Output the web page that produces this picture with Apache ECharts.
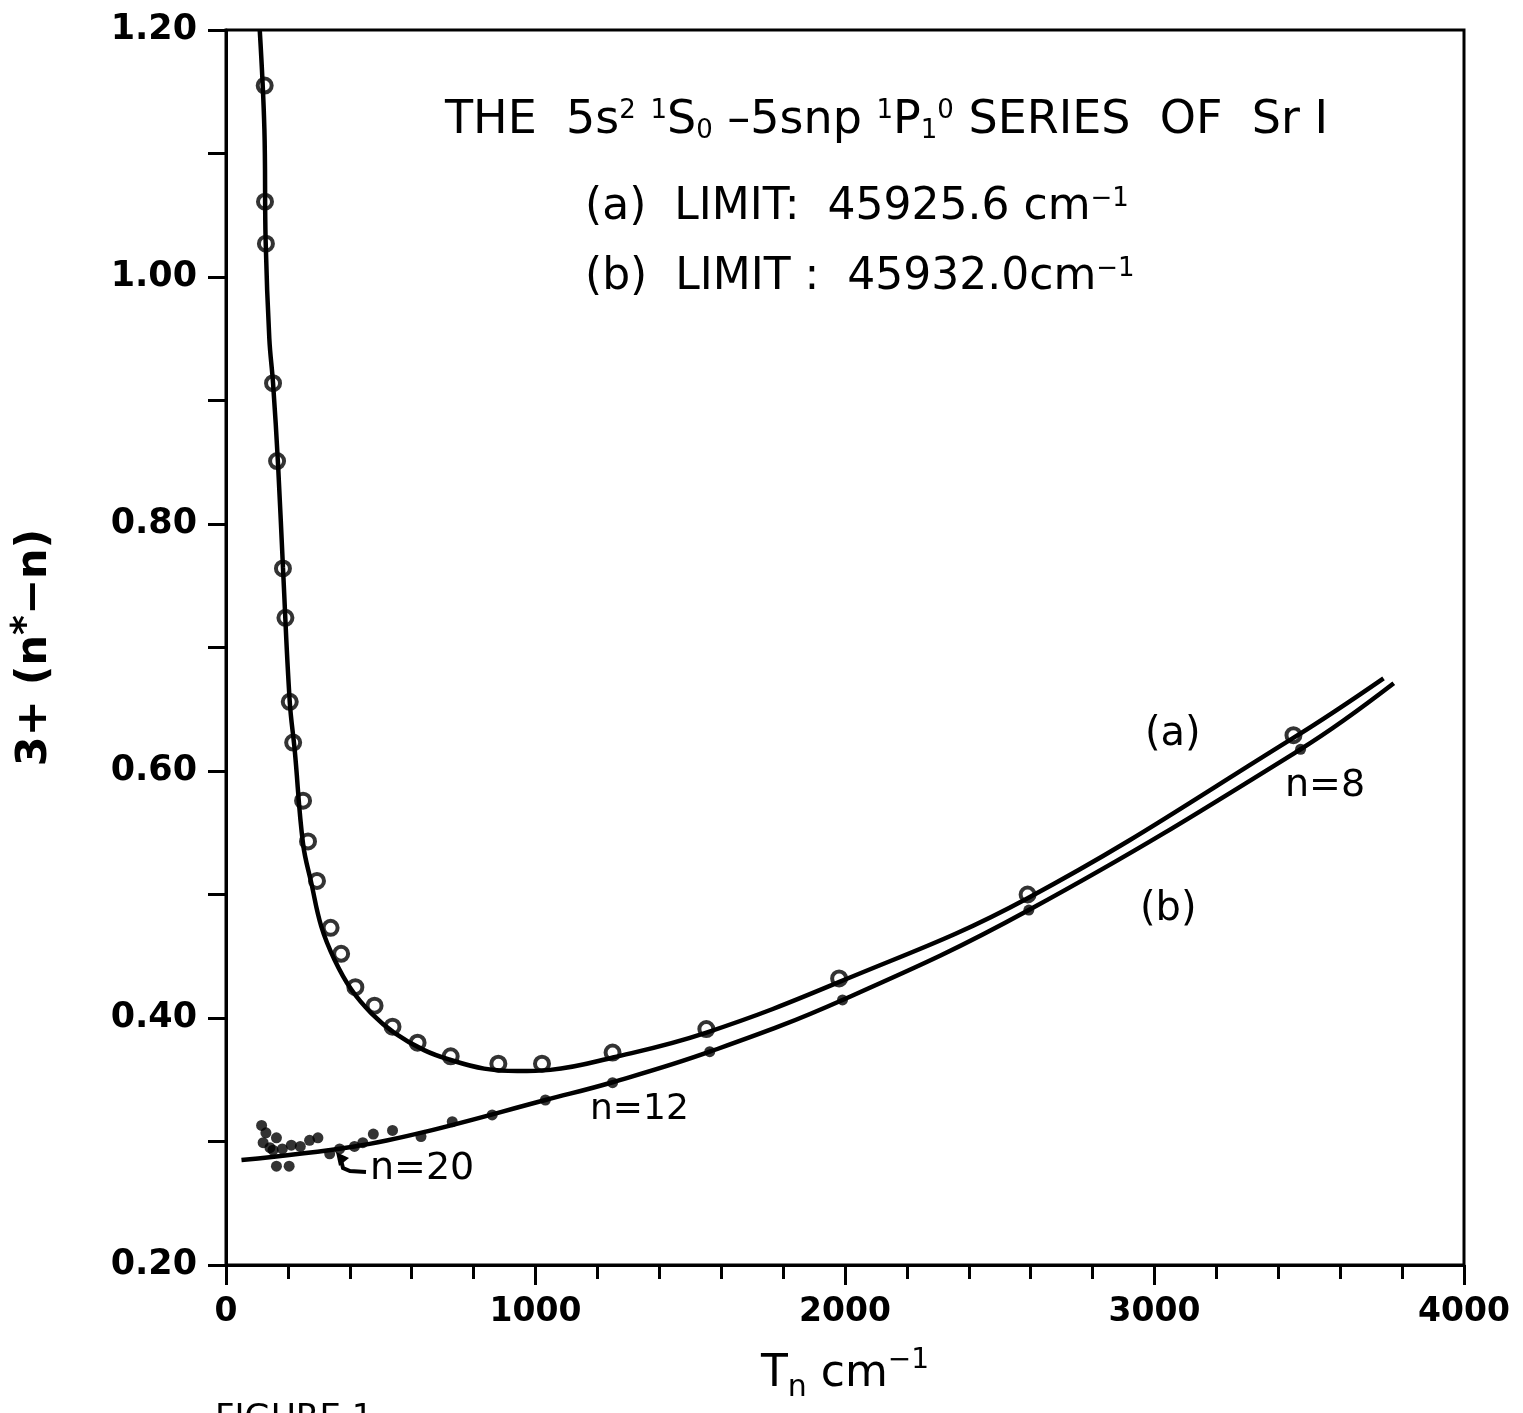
<!DOCTYPE html>
<html><head><meta charset="utf-8">
<script src="https://cdn.jsdelivr.net/npm/echarts@6/dist/echarts.min.js"></script>
<style>html,body{margin:0;padding:0;background:#fff}#c{width:1523px;height:1413px}</style>
</head><body><div id="c"></div>
<script>
// ---- data ----
const xTickValues = [0, 1000, 2000, 3000, 4000];
const yTickLabels = ['0.20', '0.40', '0.60', '0.80', '1.00', '1.20'];

// (a) LIMIT 45925.6 : open circles  [T_n, 3+(n*-n)]
const openCirclesA = [
  [125,1.155],[126,1.061],[129,1.027],[152,0.914],[165,0.851],[184,0.764],[192,0.724],
  [206,0.656],[217,0.623],[249,0.576],[265,0.543],[294,0.511],[338,0.473],[372,0.452],
  [418,0.425],[480,0.410],[538,0.393],[619,0.380],[726,0.369],[880,0.363],[1021,0.363],
  [1249,0.372],[1552,0.391],[1981,0.432],[2590,0.500],[3449,0.629]
];
// (b) LIMIT 45932.0 : filled dots
const dotsB = [
  [115,0.313],[129,0.307],[120,0.299],[163,0.303],[142,0.295],[152,0.293],[182,0.294],
  [163,0.280],[204,0.280],[211,0.297],[240,0.296],[270,0.301],[297,0.303],[335,0.290],
  [367,0.294],[415,0.296],[442,0.299],[476,0.306],[538,0.309],[630,0.304],[731,0.316],
  [860,0.3215],[1032,0.3336],[1249,0.3476],[1563,0.3727],[1992,0.4146],[2594,0.4874],[3472,0.6176]
];
// drawn curves
const curveA = [
  [109,1.200],[124,1.120],[128,1.030],[140,0.950],[152,0.914],[168,0.849],
  [184,0.765],[206,0.656],[222,0.617],[249,0.541],[276,0.509],
  [308,0.474],[351,0.447],[405,0.423],[469,0.404],[544,0.388],[640,0.374],[726,0.366],
  [834,0.359],[941,0.357],[1048,0.358],[1250,0.368],[1550,0.388],[1980,0.429],
  [2590,0.497],[3450,0.627],[3740,0.675]
];
const curveB = [
  [50,0.285],[415,0.296],[646,0.308],[1032,0.3336],[1249,0.348],
  [1563,0.3727],[1992,0.4146],[2594,0.4874],[3472,0.6176],[3773,0.671]
];

const FONT = 'DejaVu Sans';
const chart = echarts.init(document.getElementById('c'), null, {renderer:'canvas'});
const axisLineStyle = {color:'#000', width:3};
const supRich = {
  sup:{fontSize:26, fontFamily:FONT, verticalAlign:'top', padding:[0,0,18,0], fill:'#000', color:'#000'},
  sub:{fontSize:26, fontFamily:FONT, verticalAlign:'bottom', padding:[20,0,0,0], fill:'#000', color:'#000'}
};

chart.setOption({
  animation:false,
  backgroundColor:'#fff',
  grid:{left:221, top:30, width:1243, height:1235, show:true, borderColor:'#000', borderWidth:3, backgroundColor:'rgba(0,0,0,0)'},
  xAxis:{
    type:'value', min:0, max:4000, interval:1000,
    axisLine:{show:true, onZero:false, lineStyle:axisLineStyle},
    axisTick:{show:true, inside:false, length:20, lineStyle:axisLineStyle},
    minorTick:{show:true, splitNumber:5, length:14, lineStyle:axisLineStyle},
    splitLine:{show:false}, minorSplitLine:{show:false},
    axisLabel:{color:'#000', fontSize:33, fontFamily:FONT, fontWeight:'bold', margin:31,
      formatter:v => xTickValues.includes(Math.round(v)) ? String(Math.round(v)) : ''},
    name:'T{sub|n} cm{sup|\u22121}', nameLocation:'middle', nameGap:82,
    nameTextStyle:{color:'#000', fontSize:44, fontFamily:FONT, rich:{
      sup:{fontSize:28, fontFamily:FONT, color:'#000', verticalAlign:'top', padding:[0,0,20,0]},
      sub:{fontSize:30, fontFamily:FONT, color:'#000', verticalAlign:'bottom', padding:[26,0,0,0]}}}
  },
  yAxis:{
    type:'value', min:0.2, max:1.2, interval:0.1,
    axisLine:{show:true, onZero:false, lineStyle:axisLineStyle},
    axisTick:{show:true, inside:false, length:18, lineStyle:axisLineStyle},
    splitLine:{show:false},
    axisLabel:{color:'#000', fontSize:35, fontFamily:FONT, fontWeight:'bold', margin:29,
      formatter:v => { const s = v.toFixed(2); return yTickLabels.includes(s) ? s : ''; }},
    name:'3+ (n{sup|*}\u2212n)', nameLocation:'middle', nameRotate:90, nameGap:164,
    nameTextStyle:{color:'#000', fontSize:43, fontFamily:FONT, fontWeight:'bold', rich:{
      sup:{fontSize:38, fontFamily:FONT, fontWeight:'bold', color:'#000', verticalAlign:'top', padding:[0,0,16,0]}}}
  },
  series:[
    {type:'line', data:curveA, smooth:0.4, showSymbol:false, silent:true,
      lineStyle:{color:'#000', width:4.5}, z:2},
    {type:'line', data:curveB, smooth:0.4, showSymbol:false, silent:true,
      lineStyle:{color:'#000', width:4.5}, z:2},
    {type:'scatter', data:openCirclesA, symbol:'circle', symbolSize:14, silent:true,
      itemStyle:{color:'rgba(0,0,0,0)', borderColor:'#000', borderWidth:4}, z:3},
    {type:'scatter', data:dotsB, symbol:'circle', symbolSize:11, silent:true,
      itemStyle:{color:'#000'}, z:3}
  ],
  graphic:[
    {type:'text', left:445, top:98, style:{text:'THE  5s{sup|2} {sup|1}S{sub|0} \u20135snp {sup|1}P{sub|1}{sup|0} SERIES  OF  Sr I',
      fontSize:46, fontFamily:FONT, fill:'#000', rich:supRich}},
    {type:'text', left:585, top:186, style:{text:'(a)  LIMIT:  45925.6 cm{sup|\u22121}',
      fontSize:44, fontFamily:FONT, fill:'#000', rich:supRich}},
    {type:'text', left:585, top:256, style:{text:'(b)  LIMIT :  45932.0cm{sup|\u22121}',
      fontSize:44, fontFamily:FONT, fill:'#000', rich:supRich}},
    {type:'text', left:1145, top:715, style:{text:'(a)', fontSize:40, fontFamily:FONT, fill:'#000'}},
    {type:'text', left:1140, top:890, style:{text:'(b)', fontSize:40, fontFamily:FONT, fill:'#000'}},
    {type:'text', left:1285, top:767, style:{text:'n=8', fontSize:38, fontFamily:FONT, fill:'#000'}},
    {type:'text', left:590, top:1092, style:{text:'n=12', fontSize:36, fontFamily:FONT, fill:'#000'}},
    {type:'text', left:370, top:1150, style:{text:'n=20', fontSize:38, fontFamily:FONT, fill:'#000'}},
    {type:'polyline', shape:{points:[[341,1160],[343,1168],[350,1171],[366,1172]]}, style:{stroke:'#000', lineWidth:4, fill:null}},
    {type:'polygon', shape:{points:[[336,1152],[349,1158],[339,1166]]}, style:{fill:'#000'}},
    {type:'text', left:215, top:1402, style:{text:'FIGURE 1', fontSize:34, fontFamily:FONT, fill:'#000'}}
  ]
});
</script>
</body></html>
